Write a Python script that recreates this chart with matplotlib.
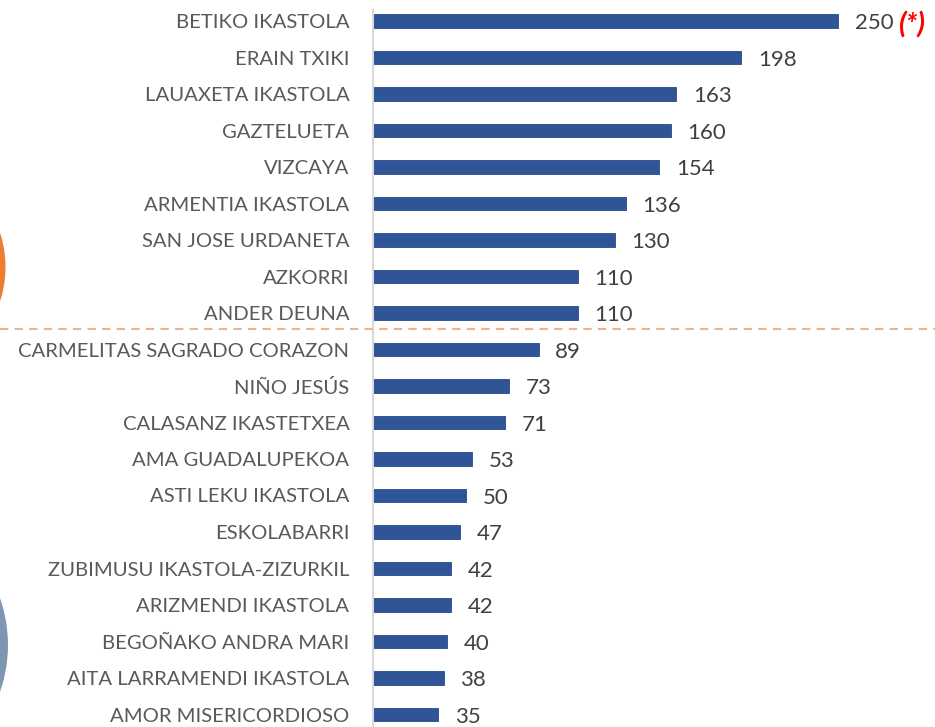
import matplotlib.pyplot as plt
from matplotlib.patches import Circle

# data
schools = ["BETIKO IKASTOLA", "ERAIN TXIKI", "LAUAXETA IKASTOLA", "GAZTELUETA",
           "VIZCAYA", "ARMENTIA IKASTOLA", "SAN JOSE URDANETA", "AZKORRI",
           "ANDER DEUNA", "CARMELITAS SAGRADO CORAZON", "NIÑO JESÚS",
           "CALASANZ IKASTETXEA", "AMA GUADALUPEKOA", "ASTI LEKU IKASTOLA",
           "ESKOLABARRI", "ZUBIMUSU IKASTOLA-ZIZURKIL", "ARIZMENDI IKASTOLA",
           "BEGOÑAKO ANDRA MARI", "AITA LARRAMENDI IKASTOLA", "AMOR MISERICORDIOSO"]
values = [250, 198, 163, 160, 154, 136, 130, 110, 110, 89, 73, 71, 53, 50,
          47, 42, 42, 40, 38, 35]

plt.rcParams['font.family'] = ['Lato', 'DejaVu Sans']

W, H = 935, 727
fig = plt.figure(figsize=(W / 100, H / 100), dpi=100)
fig.patch.set_facecolor("white")

# left decorative circles (partly off the figure)
fig.patches.append(Circle((-106, H - 267), 111.5, transform=None,
                          facecolor="#ED7D31", edgecolor="none", zorder=0))
fig.patches.append(Circle((-134, H - 645), 142, transform=None,
                          facecolor="#7F96B2", edgecolor="none", zorder=0))

ax = fig.add_axes([373 / W, 0, 558 / W, 1])
ax.set_facecolor("none")
pos = list(range(len(values)))
ax.barh(pos, values, height=0.38, color="#2F5597", edgecolor="#264a86", linewidth=0.6)
ax.set_xlim(0, 300)
ax.set_ylim((727 - 21) / 36.5, -21 / 36.5)

ax.set_yticks(pos)
ax.set_yticklabels(schools, fontsize=14.6, color="#595959")
ax.tick_params(axis="y", length=0, pad=17)
ax.set_xticks([])
for s in ["top", "right", "bottom"]:
    ax.spines[s].set_visible(False)
ax.spines["left"].set_color("#D9D9D9")
ax.spines["left"].set_linewidth(1.5)
ax.spines["left"].set_bounds(-0.3, 19.5)

for i, v in enumerate(values):
    ax.text(v + 9, i + 0.06, str(v), va="center", ha="left", fontsize=16, color="#404040")
ax.text(values[0] + 32, 0.12, "(*)", va="center", ha="left", fontsize=21,
        color="#FF0000", fontweight="bold", fontstyle="italic")

# dashed separator across whole figure
fig.add_artist(plt.Line2D([0, 1], [1 - 329 / H, 1 - 329 / H], transform=fig.transFigure,
                          color="#F4B183", linestyle=(0, (4, 3)), linewidth=1.5))

fig.savefig("out.png", dpi=100)
